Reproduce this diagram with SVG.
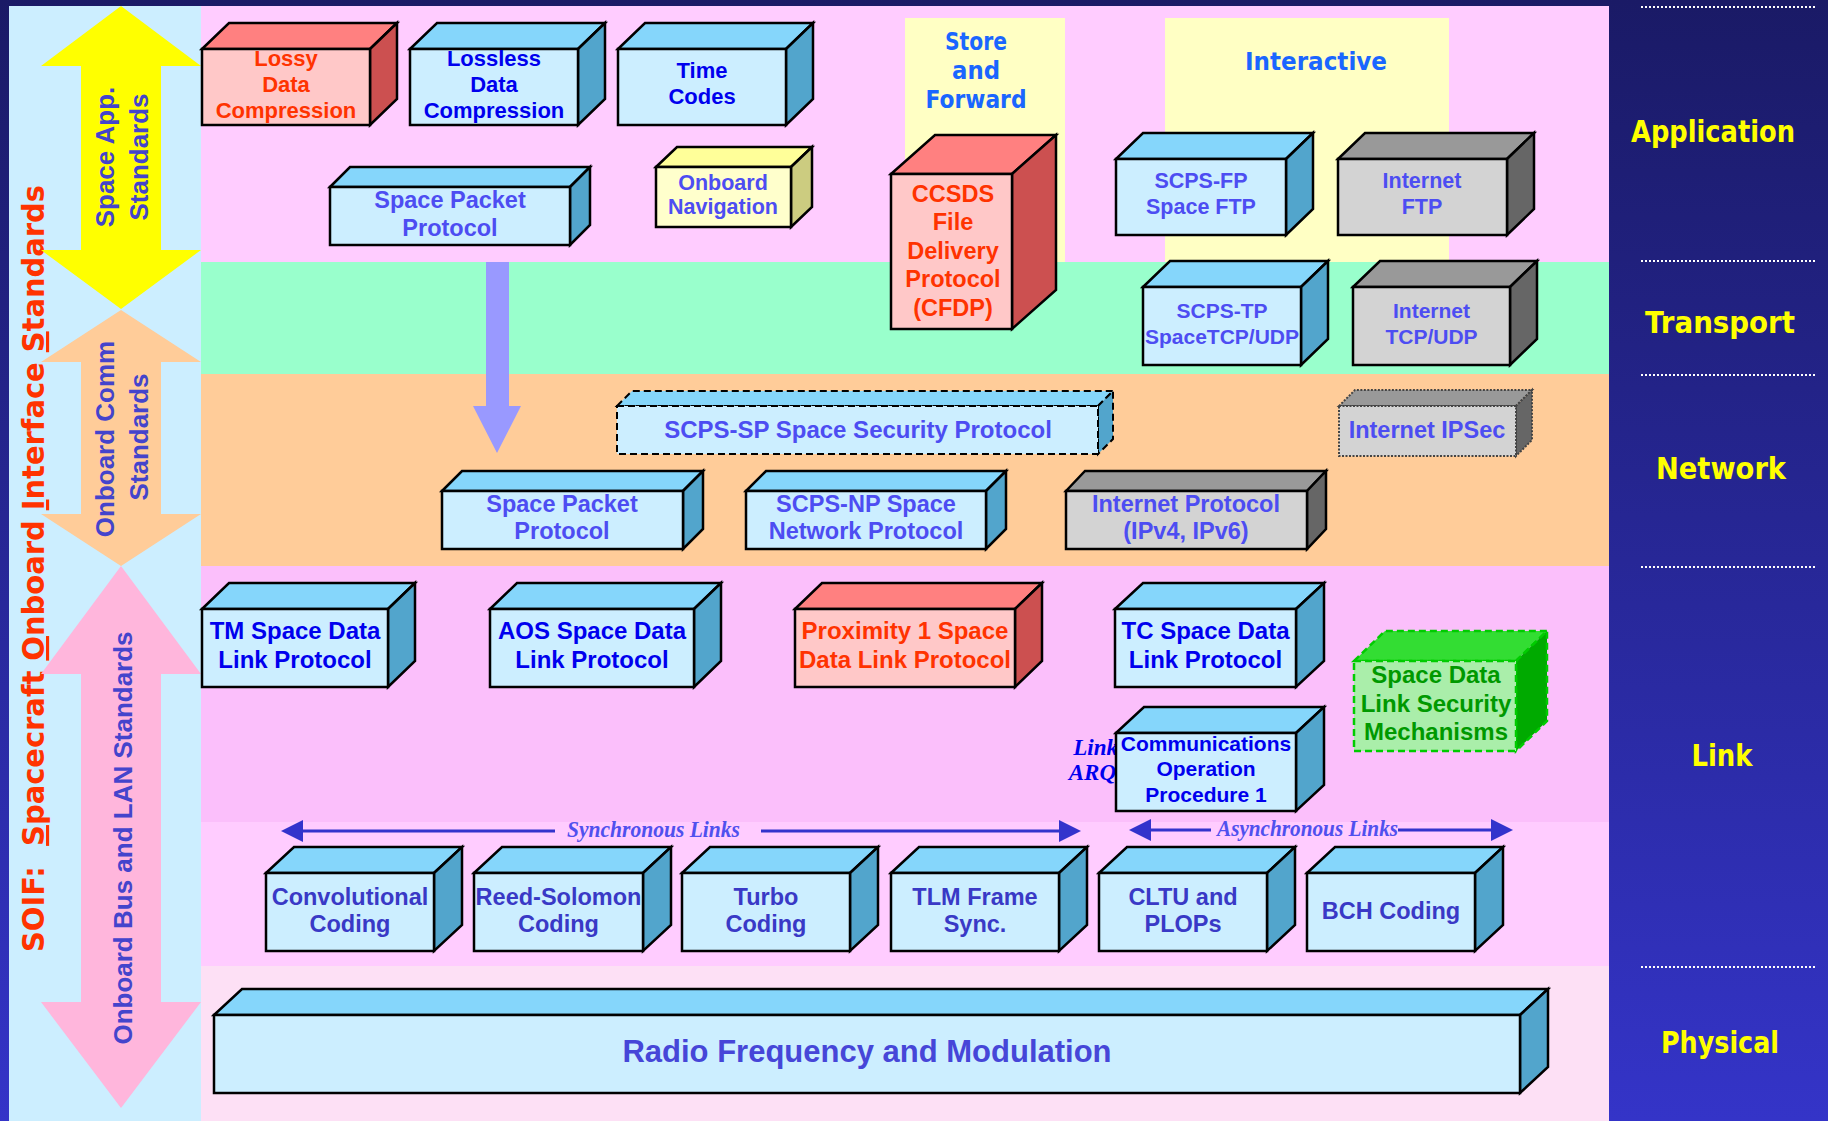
<svg xmlns="http://www.w3.org/2000/svg" width="1828" height="1121" viewBox="0 0 1828 1121">
<defs>
<linearGradient id="navy" x1="0" y1="0" x2="0" y2="1">
<stop offset="0" stop-color="#1a1a66"/>
<stop offset="1" stop-color="#3434c8"/>
</linearGradient>
<style>
.bx{stroke:#000;stroke-width:2.5;stroke-linejoin:miter}
.fb{fill:#cceeff}.tb{fill:#85d6fb}.sb{fill:#52a5cc}
.fr{fill:#ffc8c8}.tr{fill:#ff8080}.sr{fill:#cc5050}
.fg{fill:#d3d3d3}.tg{fill:#999999}.sg{fill:#666666}
.fy{fill:#ffffcc}.ty{fill:#ffff99}.sy{fill:#cccc80}
.fgr{fill:#aaeeaa}.tgr{fill:#33dd33}.sgr{fill:#00aa00}
.dash{stroke-dasharray:7 4;stroke-width:2}
.dot{stroke:#444;stroke-dasharray:2 1.5;stroke-width:2}
.gdash{stroke:#00cc00;stroke-dasharray:7 4;stroke-width:2.5}
.t{font-family:"Liberation Sans",Arial,sans-serif;font-weight:bold;text-anchor:middle}
.red{fill:#ff3300}.blu{fill:#0000ee}.vio{fill:#4d4df2}.cod{fill:#3939c6}.grn{fill:#009900}
.lay{font-family:"DejaVu Sans",sans-serif;font-weight:bold;fill:#ffff00;text-anchor:middle;font-size:30px}
.cm{font-family:"DejaVu Sans",sans-serif;font-weight:bold;fill:#1a66ff;text-anchor:middle;font-size:25px}
.ar{font-family:"Liberation Sans",Arial,sans-serif;font-weight:bold;fill:#4444cc;text-anchor:middle;font-size:26px}
.it{font-family:"Liberation Serif","Times New Roman",serif;font-weight:bold;font-style:italic;fill:#5050ee;font-size:24px}
.dl{stroke:#fff;stroke-width:2;stroke-dasharray:2 2}
.cl{stroke:#3333cc;stroke-width:3;fill:none}
</style>
</defs>

<!-- background bands -->
<rect x="0" y="0" width="1828" height="1121" fill="url(#navy)"/>
<rect x="9" y="6" width="192" height="1115" fill="#cceeff"/>
<rect x="201" y="6" width="1408" height="256" fill="#ffccff"/>
<rect x="201" y="262" width="1408" height="112" fill="#99ffcc"/>
<rect x="201" y="374" width="1408" height="192" fill="#ffcc99"/>
<rect x="201" y="566" width="1408" height="256" fill="#fbbffb"/>
<rect x="201" y="822" width="1408" height="144" fill="#ffccff"/>
<rect x="201" y="966" width="1408" height="155" fill="#fde0f5"/>
<rect x="905" y="18" width="160" height="244" fill="#ffffc4"/>
<rect x="1165" y="18" width="284" height="244" fill="#ffffc4"/>
<text class="cm" x="976" y="50" textLength="62" lengthAdjust="spacingAndGlyphs">Store</text>
<text class="cm" x="976" y="79" textLength="48" lengthAdjust="spacingAndGlyphs">and</text>
<text class="cm" x="976" y="108" textLength="101" lengthAdjust="spacingAndGlyphs">Forward</text>
<text class="cm" x="1316" y="70" textLength="142" lengthAdjust="spacingAndGlyphs">Interactive</text>

<!-- right panel layer labels -->
<g id="layers">
<line class="dl" x1="1641" y1="7" x2="1815" y2="7"/>
<line class="dl" x1="1641" y1="261" x2="1815" y2="261"/>
<line class="dl" x1="1641" y1="375" x2="1815" y2="375"/>
<line class="dl" x1="1641" y1="567" x2="1815" y2="567"/>
<line class="dl" x1="1641" y1="967" x2="1815" y2="967"/>
<text class="lay" x="1713" y="142" textLength="164" lengthAdjust="spacingAndGlyphs">Application</text>
<text class="lay" x="1720" y="333" textLength="150" lengthAdjust="spacingAndGlyphs">Transport</text>
<text class="lay" x="1721" y="479" textLength="130" lengthAdjust="spacingAndGlyphs">Network</text>
<text class="lay" x="1722" y="766" textLength="61" lengthAdjust="spacingAndGlyphs">Link</text>
<text class="lay" x="1720" y="1053" textLength="118" lengthAdjust="spacingAndGlyphs">Physical</text>
</g>

<!-- left side standards arrows -->
<g id="soif">
<text transform="translate(44,568.5) rotate(-90)" font-family="DejaVu Sans, sans-serif" font-weight="bold" font-size="31" fill="#ff3300" text-anchor="middle" textLength="767" lengthAdjust="spacingAndGlyphs" xml:space="preserve">SOIF:  <tspan text-decoration="underline">S</tspan>pacecraft <tspan text-decoration="underline">O</tspan>nboard <tspan text-decoration="underline">I</tspan>nterface <tspan text-decoration="underline">S</tspan>tandards</text>
</g>
<g id="space-app-standards">
<polygon points="121,6 201,66 161,66 161,250 201,250 121,309 41,250 81,250 81,66 41,66" fill="#ffff00"/>
<text class="ar" transform="translate(114,157) rotate(-90)">Space App.</text>
<text class="ar" transform="translate(148,157) rotate(-90)">Standards</text>
</g>
<g id="onboard-comm-standards">
<polygon points="121,310 201,362 161,362 161,514 201,514 121,566 41,514 81,514 81,362 41,362" fill="#ffcc99"/>
<text class="ar" transform="translate(114,439) rotate(-90)">Onboard Comm</text>
<text class="ar" transform="translate(148,437) rotate(-90)">Standards</text>
</g>
<g id="onboard-bus-lan-standards">
<polygon points="121,566 201,674 161,674 161,1002 201,1002 121,1108 41,1002 81,1002 81,674 41,674" fill="#ffb6dc"/>
<text class="ar" transform="translate(132,838) rotate(-90)">Onboard Bus and LAN Standards</text>
</g>

<!-- connectors -->
<g id="connectors">
<polygon id="arrow-down" points="486,262 509,262 509,406 521,406 497,453 473,406 486,406" fill="#9999ff"/>
<g id="sync-links">
<line class="cl" x1="300" y1="831" x2="555" y2="831"/>
<line class="cl" x1="761" y1="831" x2="1062" y2="831"/>
<polygon points="281,831 303,820 303,842" fill="#3333cc"/>
<polygon points="1081,831 1059,820 1059,842" fill="#3333cc"/>
<text class="it" x="567" y="837" textLength="173" lengthAdjust="spacingAndGlyphs">Synchronous Links</text>
</g>
<g id="async-links">
<line class="cl" x1="1148" y1="830" x2="1211" y2="830"/>
<line class="cl" x1="1398" y1="830" x2="1494" y2="830"/>
<polygon points="1129,830 1151,819 1151,841" fill="#3333cc"/>
<polygon points="1513,830 1491,819 1491,841" fill="#3333cc"/>
<text class="it" x="1217" y="836" textLength="181" lengthAdjust="spacingAndGlyphs">Asynchronous Links</text>
</g>
<text id="link-arq" font-family="Liberation Serif, serif" font-weight="bold" font-style="italic" font-size="23" fill="#0000ee" text-anchor="end"><tspan x="1118" y="755">Link</tspan><tspan x="1116" y="780">ARQ</tspan></text>
</g>

<!-- Application layer -->
<g id="lossy-data-compression">
<polygon class="bx tr" points="202,49 229,23 397,23 370,49"/>
<polygon class="bx sr" points="370,49 397,23 397,99 370,125"/>
<rect class="bx fr" x="202" y="49" width="168" height="76"/>
<text class="t red" font-size="22"><tspan x="286" y="66">Lossy</tspan><tspan x="286" y="92">Data</tspan><tspan x="286" y="118">Compression</tspan></text>
</g>
<g id="lossless-data-compression">
<polygon class="bx tb" points="410,49 437,23 605,23 578,49"/>
<polygon class="bx sb" points="578,49 605,23 605,99 578,125"/>
<rect class="bx fb" x="410" y="49" width="168" height="76"/>
<text class="t blu" font-size="22"><tspan x="494" y="66">Lossless</tspan><tspan x="494" y="92">Data</tspan><tspan x="494" y="118">Compression</tspan></text>
</g>
<g id="time-codes">
<polygon class="bx tb" points="618,49 645,23 813,23 786,49"/>
<polygon class="bx sb" points="786,49 813,23 813,99 786,125"/>
<rect class="bx fb" x="618" y="49" width="168" height="76"/>
<text class="t blu" font-size="22"><tspan x="702" y="78">Time</tspan><tspan x="702" y="104">Codes</tspan></text>
</g>
<g id="space-packet-protocol-app">
<polygon class="bx tb" points="330,187 350,167 590,167 570,187"/>
<polygon class="bx sb" points="570,187 590,167 590,225 570,245"/>
<rect class="bx fb" x="330" y="187" width="240" height="58"/>
<text class="t vio" font-size="23.5"><tspan x="450" y="208">Space Packet</tspan><tspan x="450" y="236">Protocol</tspan></text>
</g>
<g id="onboard-navigation">
<polygon class="bx ty" points="656,167 677,147 812,147 791,167"/>
<polygon class="bx sy" points="791,167 812,147 812,207 791,227"/>
<rect class="bx fy" x="656" y="167" width="135" height="60"/>
<text class="t vio" font-size="21.5"><tspan x="723" y="190">Onboard</tspan><tspan x="723" y="214">Navigation</tspan></text>
</g>
<g id="cfdp">
<polygon class="bx tr" points="891,174 935,135 1056,135 1012,174"/>
<polygon class="bx sr" points="1012,174 1056,135 1056,290 1012,329"/>
<rect class="bx fr" x="891" y="174" width="121" height="155"/>
<text class="t red" font-size="23.5"><tspan x="953" y="201.5">CCSDS</tspan><tspan x="953" y="230">File</tspan><tspan x="953" y="258.5">Delivery</tspan><tspan x="953" y="287">Protocol</tspan><tspan x="953" y="315.5">(CFDP)</tspan></text>
</g>
<g id="scps-fp">
<polygon class="bx tb" points="1116,159 1143,133 1313,133 1286,159"/>
<polygon class="bx sb" points="1286,159 1313,133 1313,209 1286,235"/>
<rect class="bx fb" x="1116" y="159" width="170" height="76"/>
<text class="t vio" font-size="21.5"><tspan x="1201" y="188">SCPS-FP</tspan><tspan x="1201" y="213.5">Space FTP</tspan></text>
</g>
<g id="internet-ftp">
<polygon class="bx tg" points="1338,159 1365,133 1534,133 1507,159"/>
<polygon class="bx sg" points="1507,159 1534,133 1534,209 1507,235"/>
<rect class="bx fg" x="1338" y="159" width="169" height="76"/>
<text class="t vio" font-size="21.5"><tspan x="1422" y="188">Internet</tspan><tspan x="1422" y="213.5">FTP</tspan></text>
</g>

<!-- Transport layer -->
<g id="scps-tp">
<polygon class="bx tb" points="1143,287 1170,261 1328,261 1301,287"/>
<polygon class="bx sb" points="1301,287 1328,261 1328,339 1301,365"/>
<rect class="bx fb" x="1143" y="287" width="158" height="78"/>
<text class="t vio" font-size="21"><tspan x="1222" y="318">SCPS-TP</tspan><tspan x="1222" y="344">SpaceTCP/UDP</tspan></text>
</g>
<g id="internet-tcp-udp">
<polygon class="bx tg" points="1353,287 1380,261 1537,261 1510,287"/>
<polygon class="bx sg" points="1510,287 1537,261 1537,339 1510,365"/>
<rect class="bx fg" x="1353" y="287" width="157" height="78"/>
<text class="t vio" font-size="21"><tspan x="1431.5" y="318">Internet</tspan><tspan x="1431.5" y="344">TCP/UDP</tspan></text>
</g>

<!-- Network layer -->
<g id="scps-sp">
<polygon class="bx tb dash" points="617,406 632,391 1113,391 1098,406"/>
<polygon class="bx sb dash" points="1098,406 1113,391 1113,439 1098,454"/>
<rect class="bx fb dash" x="617" y="406" width="481" height="48"/>
<text class="t vio" font-size="24" x="858" y="437.5">SCPS-SP Space Security Protocol</text>
</g>
<g id="internet-ipsec">
<polygon class="tg dot" points="1339,406 1355,390 1532,390 1516,406"/>
<polygon class="sg dot" points="1516,406 1532,390 1532,440 1516,456"/>
<rect class="fg dot" x="1339" y="406" width="177" height="50"/>
<text class="t vio" font-size="23.5" x="1427" y="438">Internet IPSec</text>
</g>
<g id="space-packet-protocol-net">
<polygon class="bx tb" points="442,491 462,471 703,471 683,491"/>
<polygon class="bx sb" points="683,491 703,471 703,529 683,549"/>
<rect class="bx fb" x="442" y="491" width="241" height="58"/>
<text class="t vio" font-size="23.5"><tspan x="562" y="512">Space Packet</tspan><tspan x="562" y="539">Protocol</tspan></text>
</g>
<g id="scps-np">
<polygon class="bx tb" points="746,491 766,471 1006,471 986,491"/>
<polygon class="bx sb" points="986,491 1006,471 1006,529 986,549"/>
<rect class="bx fb" x="746" y="491" width="240" height="58"/>
<text class="t vio" font-size="23.5"><tspan x="866" y="512">SCPS-NP Space</tspan><tspan x="866" y="539">Network Protocol</tspan></text>
</g>
<g id="internet-protocol">
<polygon class="bx tg" points="1066,491 1085,471 1326,471 1307,491"/>
<polygon class="bx sg" points="1307,491 1326,471 1326,529 1307,549"/>
<rect class="bx fg" x="1066" y="491" width="241" height="58"/>
<text class="t vio" font-size="23.5"><tspan x="1186" y="512">Internet Protocol</tspan><tspan x="1186" y="539">(IPv4, IPv6)</tspan></text>
</g>

<!-- Link layer -->
<g id="tm-space-data-link">
<polygon class="bx tb" points="202,609 229,583 415,583 388,609"/>
<polygon class="bx sb" points="388,609 415,583 415,661 388,687"/>
<rect class="bx fb" x="202" y="609" width="186" height="78"/>
<text class="t blu" font-size="24"><tspan x="295" y="638.5">TM Space Data</tspan><tspan x="295" y="667.5">Link Protocol</tspan></text>
</g>
<g id="aos-space-data-link">
<polygon class="bx tb" points="490,609 517,583 721,583 694,609"/>
<polygon class="bx sb" points="694,609 721,583 721,661 694,687"/>
<rect class="bx fb" x="490" y="609" width="204" height="78"/>
<text class="t blu" font-size="24"><tspan x="592" y="638.5">AOS Space Data</tspan><tspan x="592" y="667.5">Link Protocol</tspan></text>
</g>
<g id="proximity-1">
<polygon class="bx tr" points="795,609 822,583 1042,583 1015,609"/>
<polygon class="bx sr" points="1015,609 1042,583 1042,661 1015,687"/>
<rect class="bx fr" x="795" y="609" width="220" height="78"/>
<text class="t red" font-size="24"><tspan x="905" y="638.5">Proximity 1 Space</tspan><tspan x="905" y="667.5">Data Link Protocol</tspan></text>
</g>
<g id="tc-space-data-link">
<polygon class="bx tb" points="1115,609 1143,583 1324,583 1296,609"/>
<polygon class="bx sb" points="1296,609 1324,583 1324,661 1296,687"/>
<rect class="bx fb" x="1115" y="609" width="181" height="78"/>
<text class="t blu" font-size="24"><tspan x="1205.5" y="638.5">TC Space Data</tspan><tspan x="1205.5" y="667.5">Link Protocol</tspan></text>
</g>
<g id="cop-1">
<polygon class="bx tb" points="1116,733 1144,707 1324,707 1296,733"/>
<polygon class="bx sb" points="1296,733 1324,707 1324,785 1296,811"/>
<rect class="bx fb" x="1116" y="733" width="180" height="78"/>
<text class="t blu" font-size="21"><tspan x="1206" y="751">Communications</tspan><tspan x="1206" y="776">Operation</tspan><tspan x="1206" y="801.5">Procedure 1</tspan></text>
</g>
<g id="sdls">
<polygon class="tgr gdash" points="1354,661 1385,631 1547,631 1516,661"/>
<polygon class="sgr gdash" points="1516,661 1547,631 1547,721 1516,751"/>
<rect class="fgr gdash" x="1354" y="661" width="162" height="90"/>
<text class="t grn" font-size="24"><tspan x="1436" y="682.5">Space Data</tspan><tspan x="1436" y="712">Link Security</tspan><tspan x="1436" y="740">Mechanisms</tspan></text>
</g>

<!-- Coding -->
<g id="convolutional-coding">
<polygon class="bx tb" points="266,873 294,847 462,847 434,873"/>
<polygon class="bx sb" points="434,873 462,847 462,925 434,951"/>
<rect class="bx fb" x="266" y="873" width="168" height="78"/>
<text class="t cod" font-size="23.5"><tspan x="350" y="904.5">Convolutional</tspan><tspan x="350" y="932">Coding</tspan></text>
</g>
<g id="reed-solomon-coding">
<polygon class="bx tb" points="474,873 502,847 671,847 643,873"/>
<polygon class="bx sb" points="643,873 671,847 671,925 643,951"/>
<rect class="bx fb" x="474" y="873" width="169" height="78"/>
<text class="t cod" font-size="23.5"><tspan x="558.5" y="904.5">Reed-Solomon</tspan><tspan x="558.5" y="932">Coding</tspan></text>
</g>
<g id="turbo-coding">
<polygon class="bx tb" points="682,873 710,847 878,847 850,873"/>
<polygon class="bx sb" points="850,873 878,847 878,925 850,951"/>
<rect class="bx fb" x="682" y="873" width="168" height="78"/>
<text class="t cod" font-size="23.5"><tspan x="766" y="904.5">Turbo</tspan><tspan x="766" y="932">Coding</tspan></text>
</g>
<g id="tlm-frame-sync">
<polygon class="bx tb" points="891,873 919,847 1087,847 1059,873"/>
<polygon class="bx sb" points="1059,873 1087,847 1087,925 1059,951"/>
<rect class="bx fb" x="891" y="873" width="168" height="78"/>
<text class="t cod" font-size="23.5"><tspan x="975" y="904.5">TLM Frame</tspan><tspan x="975" y="932">Sync.</tspan></text>
</g>
<g id="cltu-plops">
<polygon class="bx tb" points="1099,873 1127,847 1295,847 1267,873"/>
<polygon class="bx sb" points="1267,873 1295,847 1295,925 1267,951"/>
<rect class="bx fb" x="1099" y="873" width="168" height="78"/>
<text class="t cod" font-size="23.5"><tspan x="1183" y="904.5">CLTU and</tspan><tspan x="1183" y="932">PLOPs</tspan></text>
</g>
<g id="bch-coding">
<polygon class="bx tb" points="1307,873 1335,847 1503,847 1475,873"/>
<polygon class="bx sb" points="1475,873 1503,847 1503,925 1475,951"/>
<rect class="bx fb" x="1307" y="873" width="168" height="78"/>
<text class="t cod" font-size="23.5" x="1391" y="918.5">BCH Coding</text>
</g>

<!-- Physical -->
<g id="radio-frequency-modulation">
<polygon class="bx tb" points="214,1015 242,989 1548,989 1520,1015"/>
<polygon class="bx sb" points="1520,1015 1548,989 1548,1067 1520,1093"/>
<rect class="bx fb" x="214" y="1015" width="1306" height="78"/>
<text class="t" fill="#4646d8" font-size="31" x="867" y="1062">Radio Frequency and Modulation</text>
</g>
</svg>
